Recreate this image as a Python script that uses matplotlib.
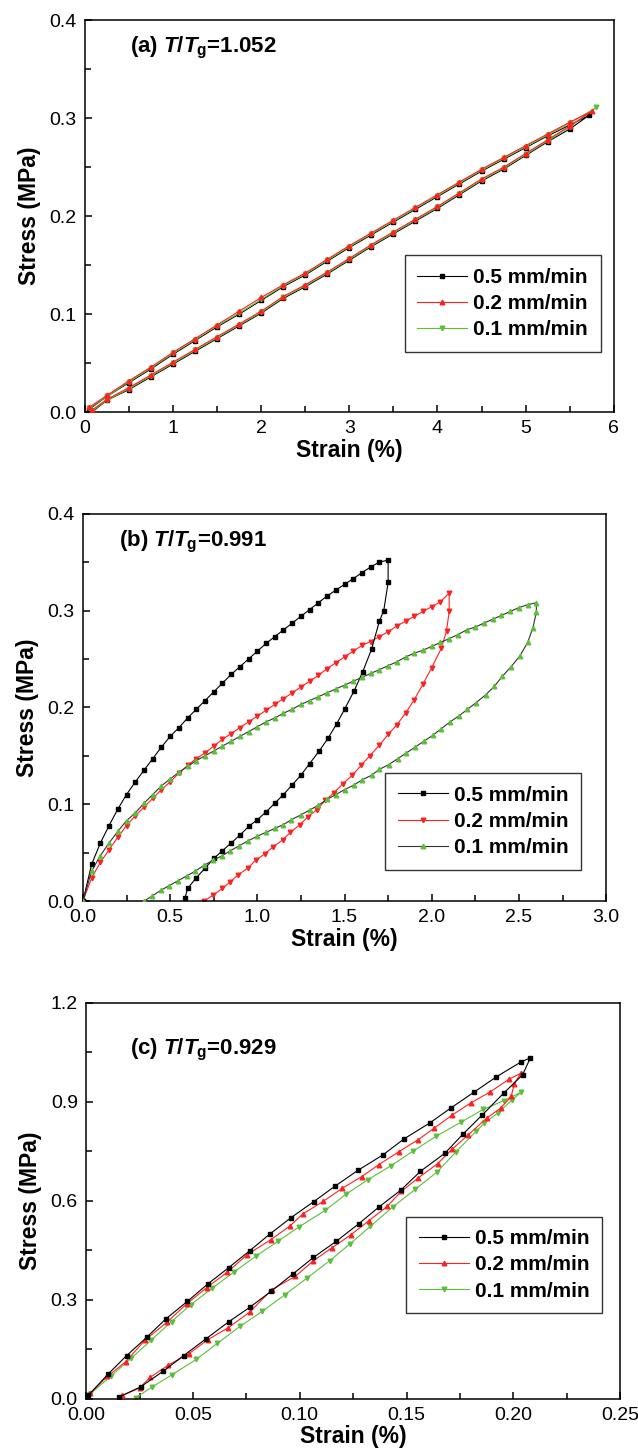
'''
Stress-strain hysteresis loops at three T/Tg ratios
'''

import matplotlib
matplotlib.use('Agg')
from matplotlib import pyplot as plt
from matplotlib.ticker import MultipleLocator, FormatStrFormatter

#############################################
#CHART TEMPLATE
loop_theme = {'font.family': ['Liberation Sans', 'DejaVu Sans'],
              'mathtext.fontset': 'custom',
              'mathtext.rm': 'Liberation Sans:bold',
              'mathtext.it': 'Liberation Sans:bold:italic',
              'mathtext.bf': 'Liberation Sans:bold',
              'axes.linewidth': 1.1,
              'xtick.direction': 'in',
              'ytick.direction': 'in',
              'xtick.labelsize': 14,
              'ytick.labelsize': 14,
              'axes.labelsize': 16.5,
              'axes.labelweight': 'bold',
              'figure.dpi': 100}
matplotlib.rcParams.update(loop_theme)
#############################################

#############################################
#Data (strain %, stress MPa)
rates = ['0.5 mm/min', '0.2 mm/min', '0.1 mm/min']

#(a) T/Tg = 1.052
a_x_load = [0.05, 0.25, 0.5, 0.75, 1.0, 1.25, 1.5, 1.75, 2.0, 2.25, 2.5, 2.75,
            3.0, 3.25, 3.5, 3.75, 4.0, 4.25, 4.5, 4.75, 5.0, 5.25, 5.5]
a_x_unload = [5.5, 5.25, 5.0, 4.75, 4.5, 4.25, 4.0, 3.75, 3.5, 3.25, 3.0, 2.75,
              2.5, 2.25, 2.0, 1.75, 1.5, 1.25, 1.0, 0.75, 0.5, 0.25, 0.08]
a_black_load = [0.003, 0.016, 0.030, 0.044, 0.059, 0.073, 0.087, 0.100, 0.114, 0.128,
                0.140, 0.154, 0.168, 0.181, 0.194, 0.207, 0.220, 0.233, 0.246, 0.258,
                0.270, 0.282, 0.293]
a_black_unload = [0.289, 0.276, 0.262, 0.248, 0.236, 0.222, 0.208, 0.195, 0.182, 0.169,
                  0.155, 0.141, 0.128, 0.116, 0.101, 0.088, 0.075, 0.062, 0.049, 0.036,
                  0.023, 0.012, 0.000]
a_red_load = [0.005, 0.017, 0.032, 0.046, 0.061, 0.075, 0.089, 0.103, 0.117, 0.130,
              0.142, 0.156, 0.170, 0.183, 0.196, 0.209, 0.222, 0.235, 0.248, 0.260,
              0.272, 0.284, 0.296]
a_red_unload = [0.292, 0.278, 0.264, 0.250, 0.238, 0.224, 0.210, 0.197, 0.184, 0.171,
                0.157, 0.143, 0.130, 0.118, 0.103, 0.090, 0.077, 0.064, 0.051, 0.038,
                0.025, 0.013, 0.002]
a_green_load = [0.004, 0.016, 0.031, 0.045, 0.060, 0.074, 0.088, 0.101, 0.115, 0.129,
                0.141, 0.155, 0.169, 0.182, 0.195, 0.208, 0.221, 0.234, 0.247, 0.259,
                0.271, 0.283, 0.295]
a_green_unload = [0.291, 0.277, 0.263, 0.249, 0.237, 0.223, 0.209, 0.196, 0.183, 0.170,
                  0.156, 0.142, 0.129, 0.117, 0.102, 0.089, 0.076, 0.063, 0.050, 0.037,
                  0.024, 0.012, 0.001]
a_peak_x = [5.72, 5.75, 5.80]
a_peak_y = [0.303, 0.307, 0.311]

#(b) T/Tg = 0.991
b_black_x = [0.0, 0.05, 0.10, 0.15, 0.20, 0.25, 0.30, 0.35, 0.40, 0.45, 0.50, 0.55, 0.60,
             0.65, 0.70, 0.75, 0.80, 0.85, 0.90, 0.95, 1.00, 1.05, 1.10, 1.15, 1.20, 1.25,
             1.30, 1.35, 1.40, 1.45, 1.50, 1.55, 1.60, 1.65, 1.70, 1.75,
             1.75, 1.725, 1.70, 1.655, 1.605, 1.555, 1.50, 1.455, 1.405, 1.355, 1.30,
             1.25, 1.20, 1.15, 1.10, 1.05, 1.00, 0.95, 0.90, 0.85, 0.80, 0.75, 0.70,
             0.65, 0.60, 0.585]
b_black_y = [0.0, 0.038, 0.060, 0.078, 0.095, 0.110, 0.123, 0.135, 0.147, 0.159, 0.170,
             0.179, 0.189, 0.198, 0.207, 0.216, 0.225, 0.234, 0.242, 0.250, 0.258, 0.266,
             0.273, 0.280, 0.287, 0.294, 0.301, 0.308, 0.315, 0.321, 0.327, 0.333, 0.339,
             0.345, 0.350, 0.352,
             0.329, 0.300, 0.289, 0.260, 0.237, 0.217, 0.198, 0.183, 0.168, 0.155, 0.142,
             0.130, 0.120, 0.110, 0.101, 0.092, 0.084, 0.077, 0.068, 0.060, 0.052, 0.044,
             0.034, 0.024, 0.013, 0.003]
b_red_x = [0.0, 0.05, 0.10, 0.15, 0.20, 0.25, 0.30, 0.35, 0.40, 0.45, 0.50, 0.55, 0.60,
           0.65, 0.70, 0.75, 0.80, 0.85, 0.90, 0.95, 1.00, 1.05, 1.10, 1.15, 1.20, 1.25,
           1.30, 1.35, 1.40, 1.45, 1.50, 1.55, 1.60, 1.65, 1.70, 1.75, 1.80, 1.85, 1.90,
           1.95, 2.00, 2.05, 2.10,
           2.10, 2.085, 2.055, 2.00, 1.95, 1.90, 1.85, 1.80, 1.75, 1.70, 1.645, 1.595,
           1.545, 1.49, 1.44, 1.39, 1.34, 1.29, 1.245, 1.19, 1.145, 1.09, 1.045, 0.99,
           0.945, 0.89, 0.845, 0.80, 0.745, 0.695]
b_red_y = [0.0, 0.024, 0.040, 0.053, 0.066, 0.078, 0.088, 0.097, 0.106, 0.115, 0.123,
           0.132, 0.140, 0.147, 0.153, 0.160, 0.167, 0.173, 0.179, 0.185, 0.191, 0.197,
           0.203, 0.209, 0.215, 0.221, 0.227, 0.233, 0.240, 0.246, 0.252, 0.258, 0.264,
           0.268, 0.273, 0.278, 0.284, 0.289, 0.294, 0.299, 0.304, 0.309, 0.318,
           0.299, 0.279, 0.261, 0.241, 0.224, 0.208, 0.194, 0.182, 0.172, 0.161, 0.150,
           0.140, 0.130, 0.121, 0.112, 0.104, 0.094, 0.087, 0.079, 0.071, 0.063, 0.056,
           0.049, 0.042, 0.034, 0.027, 0.020, 0.013, 0.006, 0.0]
b_green_x = [0.0, 0.05, 0.10, 0.15, 0.20, 0.25, 0.30, 0.35, 0.40, 0.45, 0.50, 0.55, 0.60,
             0.65, 0.70, 0.75, 0.80, 0.85, 0.90, 0.95, 1.00, 1.05, 1.10, 1.15, 1.20, 1.25,
             1.30, 1.35, 1.40, 1.45, 1.50, 1.55, 1.60, 1.65, 1.70, 1.75, 1.80, 1.85, 1.90,
             1.95, 2.00, 2.05, 2.10, 2.15, 2.20, 2.25, 2.30, 2.35, 2.40, 2.45, 2.50, 2.55,
             2.60,
             2.60, 2.58, 2.55, 2.505, 2.455, 2.405, 2.36, 2.31, 2.255, 2.205, 2.155, 2.105,
             2.055, 2.005, 1.955, 1.905, 1.855, 1.805, 1.755, 1.70, 1.655, 1.60, 1.555,
             1.50, 1.45, 1.40, 1.35, 1.30, 1.25, 1.195, 1.15, 1.10, 1.05, 1.00, 0.945,
             0.895, 0.845, 0.80, 0.745, 0.695, 0.645, 0.595, 0.545, 0.495, 0.445, 0.395,
             0.35]
b_green_y = [0.0, 0.031, 0.047, 0.060, 0.072, 0.083, 0.091, 0.101, 0.110, 0.119, 0.126,
             0.133, 0.139, 0.145, 0.150, 0.155, 0.160, 0.165, 0.170, 0.175, 0.180, 0.185,
             0.189, 0.194, 0.198, 0.203, 0.207, 0.211, 0.215, 0.219, 0.223, 0.227, 0.231,
             0.235, 0.239, 0.243, 0.247, 0.252, 0.256, 0.259, 0.263, 0.267, 0.271, 0.275,
             0.280, 0.283, 0.287, 0.291, 0.295, 0.299, 0.303, 0.306, 0.308,
             0.298, 0.282, 0.267, 0.253, 0.242, 0.232, 0.222, 0.213, 0.205, 0.198, 0.191,
             0.185, 0.178, 0.171, 0.165, 0.159, 0.153, 0.147, 0.141, 0.136, 0.130, 0.125,
             0.120, 0.115, 0.110, 0.105, 0.099, 0.094, 0.089, 0.084, 0.079, 0.075, 0.071,
             0.067, 0.062, 0.057, 0.052, 0.047, 0.042, 0.037, 0.031, 0.026, 0.021, 0.016,
             0.011, 0.005, 0.0]

#(c) T/Tg = 0.929
c_black_x = [0.001, 0.0103, 0.019, 0.0285, 0.0375, 0.0474, 0.057, 0.0667, 0.0765, 0.0862,
             0.096, 0.1065, 0.1165, 0.1275, 0.139, 0.149, 0.161, 0.171, 0.1814, 0.192,
             0.2035, 0.208,
             0.2043, 0.1955, 0.1855, 0.1763, 0.168, 0.1565, 0.1475, 0.1373, 0.1276,
             0.1171, 0.1064, 0.0968, 0.0867, 0.0766, 0.0667, 0.0562, 0.0457, 0.0362,
             0.0255, 0.0156]
c_black_y = [0.010, 0.075, 0.131, 0.187, 0.243, 0.295, 0.348, 0.397, 0.448, 0.500, 0.549,
             0.597, 0.644, 0.693, 0.739, 0.788, 0.836, 0.882, 0.928, 0.975, 1.020, 1.033,
             0.981, 0.926, 0.860, 0.801, 0.744, 0.689, 0.633, 0.582, 0.530, 0.477, 0.428,
             0.378, 0.326, 0.277, 0.233, 0.182, 0.131, 0.084, 0.036, 0.006]
c_red_x = [0.002, 0.010, 0.0185, 0.0275, 0.038, 0.047, 0.0565, 0.066, 0.0755, 0.0865,
           0.0955, 0.1015, 0.111, 0.120, 0.129, 0.137, 0.1465, 0.1555, 0.163, 0.1715,
           0.180, 0.189, 0.198, 0.2035,
           0.2005, 0.199, 0.194, 0.1875, 0.179, 0.1715, 0.1645, 0.1555, 0.1475, 0.141,
           0.1325, 0.124, 0.115, 0.106, 0.098, 0.087, 0.0765, 0.0665, 0.057, 0.048,
           0.0385, 0.030, 0.025, 0.017]
c_red_y = [0.018, 0.068, 0.112, 0.177, 0.233, 0.287, 0.337, 0.383, 0.437, 0.482, 0.524,
           0.560, 0.598, 0.638, 0.673, 0.709, 0.749, 0.785, 0.820, 0.860, 0.896, 0.929,
           0.968, 0.986,
           0.955, 0.916, 0.880, 0.850, 0.800, 0.757, 0.712, 0.669, 0.628, 0.583, 0.540,
           0.497, 0.457, 0.416, 0.371, 0.331, 0.262, 0.215, 0.179, 0.136, 0.102, 0.065,
           0.033, 0.010]
c_green_x = [0.002, 0.0115, 0.021, 0.0305, 0.040, 0.049, 0.059, 0.069, 0.0795, 0.090,
             0.0995, 0.112, 0.1215, 0.132, 0.1425, 0.153, 0.1638, 0.1755, 0.186, 0.1955,
             0.2035,
             0.1995, 0.193, 0.1865, 0.1825, 0.1733, 0.1643, 0.154, 0.1435, 0.133, 0.1235,
             0.114, 0.1035, 0.093, 0.0825, 0.0722, 0.0615, 0.0515, 0.040, 0.031, 0.0232]
c_green_y = [0.015, 0.068, 0.122, 0.178, 0.234, 0.285, 0.335, 0.383, 0.432, 0.478, 0.520,
             0.571, 0.619, 0.664, 0.705, 0.750, 0.795, 0.838, 0.877, 0.903, 0.928,
             0.906, 0.867, 0.835, 0.810, 0.749, 0.687, 0.634, 0.581, 0.522, 0.469, 0.418,
             0.366, 0.315, 0.265, 0.220, 0.168, 0.119, 0.072, 0.036, 0.003]
#############################################

black = '#000000'
red = '#ff2020'
green = '#5cbf3a'

fig = plt.figure(figsize=(6.38, 14.51), dpi=100)
ax_a = fig.add_axes([0.133, 0.716, 0.829, 0.270])
ax_b = fig.add_axes([0.130, 0.379, 0.820, 0.267])
ax_c = fig.add_axes([0.135, 0.036, 0.837, 0.273])


def loop(ax, x, y, line_col, mark_col, marker, label, z):
    ax.plot(x, y, color=line_col, lw=0.8, marker=marker, ms=3.3,
            mfc=mark_col, mec=mark_col, label=label, zorder=z)


#Panel (a): loading then unloading through the peak point
loop(ax_a, a_x_load + [a_peak_x[0]] + a_x_unload,
     a_black_load + [a_peak_y[0]] + a_black_unload, black, black, 's', rates[0], 2)
loop(ax_a, a_x_load + [a_peak_x[1]] + a_x_unload,
     a_red_load + [a_peak_y[1]] + a_red_unload, red, red, '^', rates[1], 4)
loop(ax_a, a_x_load + [a_peak_x[2]] + a_x_unload,
     a_green_load + [a_peak_y[2]] + a_green_unload, green, green, 'v', rates[2], 3)

loop(ax_b, b_black_x, b_black_y, black, black, 's', rates[0], 3)
loop(ax_b, b_red_x, b_red_y, red, red, 'v', rates[1], 2)
loop(ax_b, b_green_x, b_green_y, '#333333', green, '^', rates[2], 4)

loop(ax_c, c_black_x, c_black_y, black, black, 's', rates[0], 4)
loop(ax_c, c_red_x, c_red_y, red, red, '^', rates[1], 3)
loop(ax_c, c_green_x, c_green_y, green, green, 'v', rates[2], 2)

panels = [(ax_a, (0, 6), (0, 0.4), 1, 0.5, 0.1, 0.05, '%.0f', '%.1f',
           r'(a) $T/T_{\mathrm{g}}$=1.052', (0.085, 0.93), (0.975, 0.40)),
          (ax_b, (0, 3), (0, 0.4), 0.5, 0.25, 0.1, 0.05, '%.1f', '%.1f',
           r'(b) $T/T_{\mathrm{g}}$=0.991', (0.068, 0.928), (0.952, 0.33)),
          (ax_c, (0, 0.25), (0, 1.2), 0.05, 0.025, 0.3, 0.15, '%.2f', '%.1f',
           r'(c) $T/T_{\mathrm{g}}$=0.929', (0.082, 0.88), (0.966, 0.46))]

for ax, xl, yl, xmaj, xmin, ymaj, ymin, xfmt, yfmt, tag, tag_pos, leg_pos in panels:
    ax.set_xlim(xl)
    ax.set_ylim(yl)
    ax.xaxis.set_major_locator(MultipleLocator(xmaj))
    ax.xaxis.set_minor_locator(MultipleLocator(xmin))
    ax.yaxis.set_major_locator(MultipleLocator(ymaj))
    ax.yaxis.set_minor_locator(MultipleLocator(ymin))
    ax.xaxis.set_major_formatter(FormatStrFormatter(xfmt))
    ax.yaxis.set_major_formatter(FormatStrFormatter(yfmt))
    ax.tick_params(which='major', length=5, width=1.1, pad=6)
    ax.tick_params(which='minor', length=4, width=1.1)
    ax.set_xlabel('Strain (%)', labelpad=1)
    ax.set_ylabel('Stress (MPa)', labelpad=6)
    ax.text(tag_pos[0], tag_pos[1], tag, transform=ax.transAxes,
            fontsize=16, fontweight='bold', va='center', ha='left')
    leg = ax.legend(loc='upper right', bbox_to_anchor=leg_pos, numpoints=1,
                    handlelength=2.4, handletextpad=0.3, labelspacing=0.35,
                    borderpad=0.6, borderaxespad=0, fancybox=False, framealpha=1,
                    edgecolor='#333333', prop={'weight': 'bold', 'size': 15})
    leg.get_frame().set_linewidth(1.0)

plt.savefig('out.png', dpi=100)
